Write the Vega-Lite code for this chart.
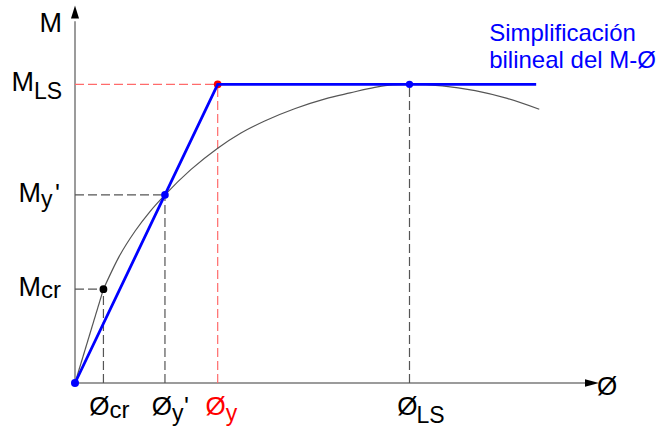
{
  "$schema": "https://vega.github.io/schema/vega-lite/v6.json",
  "width": 517,
  "height": 371,
  "autosize": "none",
  "padding": {"left": 75, "top": 12, "right": 71, "bottom": 44},
  "config": {
    "view": {"stroke": null},
    "text": {"font": "Liberation Sans", "fontSize": 26, "color": "#000000"}
  },
  "datasets": {
    "curva": [
      {"tramo": "elastico", "phi": 0, "M": 0},
      {"tramo": "elastico", "phi": 5.5, "M": 25.3},
      {"tramo": "fisurado", "phi": 5.5, "M": 25.3},
      {"tramo": "fisurado", "phi": 8.5, "M": 34.0},
      {"tramo": "fisurado", "phi": 11.6, "M": 40.9},
      {"tramo": "fisurado", "phi": 14.5, "M": 46.2},
      {"tramo": "fisurado", "phi": 17.4, "M": 50.7},
      {"tramo": "fisurado", "phi": 22.4, "M": 57.5},
      {"tramo": "fisurado", "phi": 27.6, "M": 63.3},
      {"tramo": "fisurado", "phi": 32.1, "M": 67.4},
      {"tramo": "fisurado", "phi": 36.8, "M": 70.7},
      {"tramo": "fisurado", "phi": 42.6, "M": 74.0},
      {"tramo": "fisurado", "phi": 48.4, "M": 76.6},
      {"tramo": "fisurado", "phi": 53.2, "M": 78.2},
      {"tramo": "fisurado", "phi": 58.0, "M": 79.7},
      {"tramo": "fisurado", "phi": 61.5, "M": 80.35},
      {"tramo": "fisurado", "phi": 64.7, "M": 80.5},
      {"tramo": "fisurado", "phi": 71.0, "M": 80.1},
      {"tramo": "fisurado", "phi": 77.4, "M": 78.8},
      {"tramo": "fisurado", "phi": 83.6, "M": 76.7},
      {"tramo": "fisurado", "phi": 89.8, "M": 73.8}
    ],
    "bilineal": [
      {"phi": 0, "M": 0},
      {"phi": 27.6, "M": 80.5},
      {"phi": 89.2, "M": 80.5}
    ],
    "guias": [
      {"tipo": "cr", "phi": 0, "M": 25.3, "phi2": 5.5, "M2": 25.3},
      {"tipo": "cr", "phi": 5.5, "M": 0, "phi2": 5.5, "M2": 25.3},
      {"tipo": "y'", "phi": 0, "M": 50.7, "phi2": 17.4, "M2": 50.7},
      {"tipo": "y'", "phi": 17.4, "M": 0, "phi2": 17.4, "M2": 50.7},
      {"tipo": "y", "phi": 0, "M": 80.5, "phi2": 27.6, "M2": 80.5},
      {"tipo": "y", "phi": 27.6, "M": 0, "phi2": 27.6, "M2": 80.5},
      {"tipo": "LS", "phi": 64.7, "M": 0, "phi2": 64.7, "M2": 80.5}
    ],
    "ejes": [
      {"eje": "M", "phi": 0, "M": 0, "phi2": 0, "M2": 97.5},
      {"eje": "phi", "phi": 0, "M": 0, "phi2": 98.8, "M2": 0}
    ],
    "puntos": [
      {"punto": "origen", "phi": 0, "M": 0},
      {"punto": "cr", "phi": 5.5, "M": 25.3},
      {"punto": "y'", "phi": 17.4, "M": 50.7},
      {"punto": "y", "phi": 27.6, "M": 80.5},
      {"punto": "LS", "phi": 64.7, "M": 80.5}
    ],
    "anclas": [
      {"id": "ejeM", "phi": 0, "M": 100},
      {"id": "ejePhi", "phi": 100, "M": 0},
      {"id": "MLS", "phi": 0, "M": 80.5},
      {"id": "My", "phi": 0, "M": 50.7},
      {"id": "Mcr", "phi": 0, "M": 25.3},
      {"id": "phicr", "phi": 5.5, "M": 0},
      {"id": "phiy1", "phi": 17.4, "M": 0},
      {"id": "phiy", "phi": 27.6, "M": 0},
      {"id": "phiLS", "phi": 64.7, "M": 0},
      {"id": "bilineal", "phi": 89.2, "M": 80.5}
    ]
  },
  "encoding": {
    "x": {"field": "phi", "type": "quantitative", "scale": {"domain": [0, 100], "nice": false, "zero": false}, "axis": null},
    "y": {"field": "M", "type": "quantitative", "scale": {"domain": [0, 100], "nice": false, "zero": false}, "axis": null}
  },
  "resolve": {"scale": {"color": "independent", "size": "independent"}},
  "layer": [
    {
      "data": {"name": "ejes"},
      "mark": {"type": "rule", "color": "#7a7a7a", "strokeWidth": 1.5},
      "encoding": {"x2": {"field": "phi2"}, "y2": {"field": "M2"}}
    },
    {
      "data": {"name": "anclas"},
      "transform": [{"filter": "datum.id === 'ejeM'"}],
      "mark": {"type": "point", "shape": "M0,-1L0.62,1L-0.62,1Z", "size": 169, "filled": true, "color": "#000000", "opacity": 1, "dy": 6.5}
    },
    {
      "data": {"name": "anclas"},
      "transform": [{"filter": "datum.id === 'ejePhi'"}],
      "mark": {"type": "point", "shape": "M1,0L-1,-0.52L-1,0.52Z", "size": 196, "filled": true, "color": "#000000", "opacity": 1, "dx": -7}
    },
    {
      "data": {"name": "guias"},
      "mark": {"type": "rule", "strokeWidth": 1.2, "strokeDash": [9, 4]},
      "encoding": {
        "x2": {"field": "phi2"},
        "y2": {"field": "M2"},
        "color": {"field": "tipo", "type": "nominal", "legend": null,
          "scale": {"domain": ["cr", "y'", "y", "LS"], "range": ["#555555", "#555555", "#ff6b6b", "#555555"]}}
      }
    },
    {
      "data": {"name": "curva"},
      "mark": {"type": "line", "color": "#555555", "strokeWidth": 1.2, "interpolate": "monotone"},
      "encoding": {"detail": {"field": "tramo"}}
    },
    {
      "data": {"name": "puntos"},
      "transform": [{"filter": "datum.punto === 'y'"}],
      "mark": {"type": "circle", "size": 60, "color": "#ff0000", "opacity": 1}
    },
    {
      "data": {"name": "bilineal"},
      "mark": {"type": "line", "color": "#0000ff", "strokeWidth": 2.8},
      "encoding": {}
    },
    {
      "data": {"name": "puntos"},
      "transform": [{"filter": "datum.punto !== 'y'"}],
      "mark": {"type": "circle", "opacity": 1},
      "encoding": {
        "color": {"field": "punto", "type": "nominal", "legend": null,
          "scale": {"domain": ["origen", "cr", "y'", "LS"], "range": ["#0000ff", "#000000", "#0000ff", "#0000ff"]}},
        "size": {"field": "punto", "type": "nominal", "legend": null,
          "scale": {"domain": ["origen", "cr", "y'", "LS"], "range": [64, 55, 70, 64]}}
      }
    },
    {
      "data": {"name": "anclas"},
      "transform": [{"filter": "datum.id === 'ejeM'"}],
      "mark": {"type": "text", "text": "M", "align": "right", "baseline": "alphabetic", "dx": -13, "dy": 20, "fontSize": 27}
    },
    {
      "data": {"name": "anclas"},
      "transform": [{"filter": "datum.id === 'ejePhi'"}],
      "mark": {"type": "text", "text": "Ø", "align": "left", "baseline": "alphabetic", "dx": 5, "dy": 12}
    },
    {
      "data": {"name": "anclas"},
      "transform": [{"filter": "datum.id === 'MLS'"}],
      "mark": {"type": "text", "text": "M", "align": "right", "baseline": "alphabetic", "dx": -41, "dy": 7, "fontSize": 27}
    },
    {
      "data": {"name": "anclas"},
      "transform": [{"filter": "datum.id === 'MLS'"}],
      "mark": {"type": "text", "text": "LS", "align": "left", "baseline": "alphabetic", "dx": -41, "dy": 15, "fontSize": 23}
    },
    {
      "data": {"name": "anclas"},
      "transform": [{"filter": "datum.id === 'My'"}],
      "mark": {"type": "text", "text": "M", "align": "right", "baseline": "alphabetic", "dx": -34, "dy": 7, "fontSize": 27}
    },
    {
      "data": {"name": "anclas"},
      "transform": [{"filter": "datum.id === 'My'"}],
      "mark": {"type": "text", "text": "y", "align": "left", "baseline": "alphabetic", "dx": -34, "dy": 12, "fontSize": 23}
    },
    {
      "data": {"name": "anclas"},
      "transform": [{"filter": "datum.id === 'My'"}],
      "mark": {"type": "text", "text": "'", "align": "left", "baseline": "alphabetic", "dx": -20, "dy": 7}
    },
    {
      "data": {"name": "anclas"},
      "transform": [{"filter": "datum.id === 'Mcr'"}],
      "mark": {"type": "text", "text": "M", "align": "right", "baseline": "alphabetic", "dx": -34, "dy": 7, "fontSize": 27}
    },
    {
      "data": {"name": "anclas"},
      "transform": [{"filter": "datum.id === 'Mcr'"}],
      "mark": {"type": "text", "text": "cr", "align": "left", "baseline": "alphabetic", "dx": -34, "dy": 9, "fontSize": 24}
    },
    {
      "data": {"name": "anclas"},
      "transform": [{"filter": "datum.id === 'phicr'"}],
      "mark": {"type": "text", "text": "Ø", "align": "right", "baseline": "alphabetic", "dx": 6, "dy": 32}
    },
    {
      "data": {"name": "anclas"},
      "transform": [{"filter": "datum.id === 'phicr'"}],
      "mark": {"type": "text", "text": "cr", "align": "left", "baseline": "alphabetic", "dx": 6, "dy": 35, "fontSize": 24}
    },
    {
      "data": {"name": "anclas"},
      "transform": [{"filter": "datum.id === 'phiy1'"}],
      "mark": {"type": "text", "text": "Ø", "align": "right", "baseline": "alphabetic", "dx": 7, "dy": 32}
    },
    {
      "data": {"name": "anclas"},
      "transform": [{"filter": "datum.id === 'phiy1'"}],
      "mark": {"type": "text", "text": "y", "align": "left", "baseline": "alphabetic", "dx": 7, "dy": 38, "fontSize": 23}
    },
    {
      "data": {"name": "anclas"},
      "transform": [{"filter": "datum.id === 'phiy1'"}],
      "mark": {"type": "text", "text": "'", "align": "left", "baseline": "alphabetic", "dx": 19, "dy": 32}
    },
    {
      "data": {"name": "anclas"},
      "transform": [{"filter": "datum.id === 'phiy'"}],
      "mark": {"type": "text", "text": "Ø", "align": "right", "baseline": "alphabetic", "dx": 8, "dy": 32, "color": "#ff0000"}
    },
    {
      "data": {"name": "anclas"},
      "transform": [{"filter": "datum.id === 'phiy'"}],
      "mark": {"type": "text", "text": "y", "align": "left", "baseline": "alphabetic", "dx": 8, "dy": 38, "fontSize": 23, "color": "#ff0000"}
    },
    {
      "data": {"name": "anclas"},
      "transform": [{"filter": "datum.id === 'phiLS'"}],
      "mark": {"type": "text", "text": "Ø", "align": "right", "baseline": "alphabetic", "dx": 8, "dy": 32}
    },
    {
      "data": {"name": "anclas"},
      "transform": [{"filter": "datum.id === 'phiLS'"}],
      "mark": {"type": "text", "text": "LS", "align": "left", "baseline": "alphabetic", "dx": 7, "dy": 40, "fontSize": 23}
    },
    {
      "data": {"name": "anclas"},
      "transform": [{"filter": "datum.id === 'bilineal'"}],
      "mark": {"type": "text", "text": ["Simplificación", "bilineal del M-Ø"], "align": "left", "baseline": "alphabetic", "lineHeight": 27, "dx": -47, "dy": -43, "fontSize": 24, "color": "#0000ff"}
    }
  ]
}
